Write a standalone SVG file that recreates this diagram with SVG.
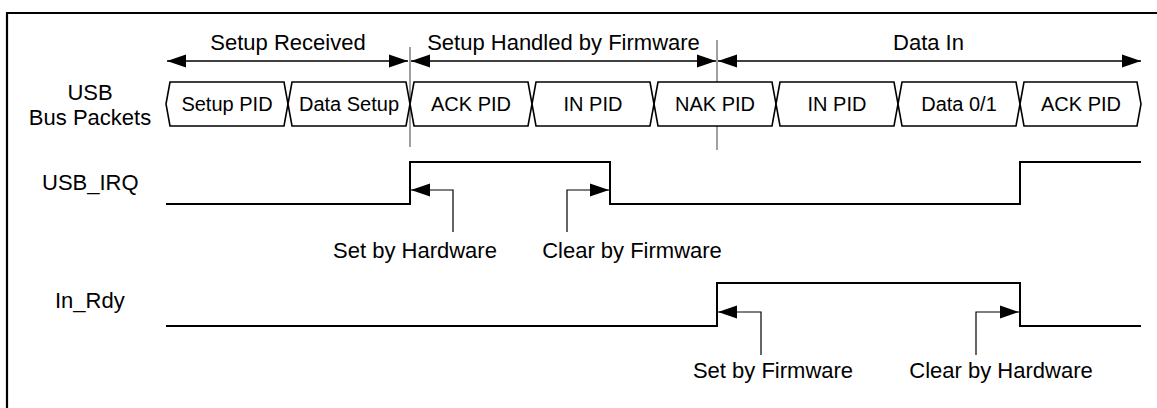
<svg xmlns="http://www.w3.org/2000/svg" width="1157" height="408" viewBox="0 0 1157 408">
<defs>
<marker id="ah" markerUnits="userSpaceOnUse" markerWidth="20" markerHeight="14" refX="19" refY="7" orient="auto-start-reverse">
<path d="M0,0.5 L19,7 L0,13.5 Z" fill="#000"/>
</marker>
<style>
.t{font-family:"Liberation Sans",Arial,sans-serif;font-size:22px;fill:#000}
.p{font-family:"Liberation Sans",Arial,sans-serif;font-size:20px;fill:#000;text-anchor:middle}
.pk{fill:#fff;stroke:#000;stroke-width:1.6}
.sig{fill:none;stroke:#000;stroke-width:2}
.ld{fill:none;stroke:#000;stroke-width:1.2}
.dv{stroke:#777;stroke-width:1.4}
.ar{stroke:#000;stroke-width:1.4;fill:none}
</style>
</defs>
<rect x="0" y="0" width="1157" height="408" fill="#fff"/>
<path d="M7,420 L7,13 L1170,13" fill="none" stroke="#000" stroke-width="2.2"/>

<g id="dividers">
<line class="dv" x1="410" y1="47" x2="410" y2="147"/>
<line class="dv" x1="717" y1="40" x2="717" y2="150"/>
</g>

<g id="phase-labels">
<text class="t" x="288" y="50" text-anchor="middle">Setup Received</text>
<text class="t" x="563.5" y="50" text-anchor="middle">Setup Handled by Firmware</text>
<text class="t" x="928.5" y="50" text-anchor="middle">Data In</text>
</g>

<g id="signal-labels">
<text class="t" x="90" y="100" text-anchor="middle">USB</text>
<text class="t" x="90" y="125" text-anchor="middle">Bus Packets</text>
<text class="t" x="42" y="190">USB_IRQ</text>
<text class="t" x="55" y="308">In_Rdy</text>
</g>

<g id="packets">
<g id="pkt-setup"><path class="pk" d="M166,104 L170,82 L284,82 L288,104 L284,126 L170,126 Z"/><text class="p" x="227" y="111">Setup PID</text></g>
<g id="pkt-datasetup"><path class="pk" d="M288,104 L292,82 L406,82 L410,104 L406,126 L292,126 Z"/><text class="p" x="349" y="111">Data Setup</text></g>
<g id="pkt-ack1"><path class="pk" d="M410,104 L414,82 L528,82 L532,104 L528,126 L414,126 Z"/><text class="p" x="471" y="111">ACK PID</text></g>
<g id="pkt-in1"><path class="pk" d="M532,104 L536,82 L650,82 L654,104 L650,126 L536,126 Z"/><text class="p" x="593" y="111">IN PID</text></g>
<g id="pkt-nak"><path class="pk" d="M654,104 L658,82 L772,82 L776,104 L772,126 L658,126 Z"/><text class="p" x="715" y="111">NAK PID</text></g>
<g id="pkt-in2"><path class="pk" d="M776,104 L780,82 L894,82 L898,104 L894,126 L780,126 Z"/><text class="p" x="837" y="111">IN PID</text></g>
<g id="pkt-data"><path class="pk" d="M898,104 L902,82 L1016,82 L1020,104 L1016,126 L902,126 Z"/><text class="p" x="959" y="111">Data 0/1</text></g>
<g id="pkt-ack2"><path class="pk" d="M1020,104 L1024,82 L1137,82 L1141,104 L1137,126 L1024,126 Z"/><text class="p" x="1081" y="111">ACK PID</text></g>
</g>

<g id="waveforms">
<path id="usb-irq" class="sig" d="M166,204 L410,204 L410,162 L610,162 L610,204 L1020,204 L1020,162 L1141,162"/>
<path id="in-rdy" class="sig" d="M166,326 L717,326 L717,283 L1020,283 L1020,326 L1141,326"/>
</g>

<g id="annotations">
<text class="t" x="415" y="258" text-anchor="middle">Set by Hardware</text>
<text class="t" x="632" y="258" text-anchor="middle">Clear by Firmware</text>
<text class="t" x="773" y="378" text-anchor="middle">Set by Firmware</text>
<text class="t" x="1001" y="378" text-anchor="middle">Clear by Hardware</text>
</g>

<g id="connectors">
<line class="ar" x1="167" y1="61" x2="408" y2="61" marker-start="url(#ah)" marker-end="url(#ah)"/>
<line class="ar" x1="411" y1="61" x2="716" y2="61" marker-start="url(#ah)" marker-end="url(#ah)"/>
<line class="ar" x1="718" y1="61" x2="1141" y2="61" marker-start="url(#ah)" marker-end="url(#ah)"/>
<path class="ld" d="M453,232 L453,190 L411,190" marker-end="url(#ah)"/>
<path class="ld" d="M567,232 L567,190 L609,190" marker-end="url(#ah)"/>
<path class="ld" d="M761,355 L761,312 L718,312" marker-end="url(#ah)"/>
<path class="ld" d="M976,355 L976,312 L1019,312" marker-end="url(#ah)"/>
</g>
</svg>
